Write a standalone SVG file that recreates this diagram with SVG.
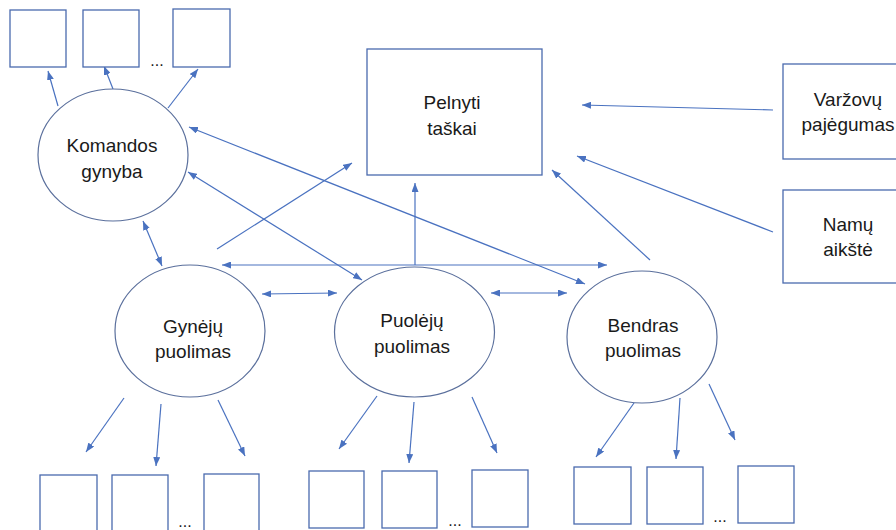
<svg xmlns="http://www.w3.org/2000/svg" width="896" height="530" viewBox="0 0 896 530">
  <style>
    .box { fill: #ffffff; stroke: #4a6aae; stroke-width: 1.3; }
    .oval { fill: #ffffff; stroke: #5a6f9c; stroke-width: 1.2; }
    .lbl { font-family: "Liberation Sans", "Open Sans", sans-serif; font-size: 19px; fill: #1a1a1a; text-anchor: middle; }
    .dots { font-family: "Liberation Sans", sans-serif; font-size: 16px; fill: #1a1a1a; text-anchor: middle; }
    .cn { stroke: #4a72c0; stroke-width: 1.2; fill: none; }
    .one { marker-end: url(#ah); }
    .two { marker-start: url(#ah); marker-end: url(#ah); }
  </style>
  <defs>
    <marker id="ah" markerUnits="userSpaceOnUse" markerWidth="9" markerHeight="7" refX="9" refY="3.5" orient="auto-start-reverse">
      <path d="M0,0 L9,3.5 L0,7 z" fill="#4a72c0"/>
    </marker>
  </defs>
  <rect width="896" height="530" fill="#ffffff"/>

  <!-- connectors -->
  <g id="connectors">
    <!-- team defence to its indicators -->
    <line class="cn one" x1="58" y1="106" x2="48" y2="71"/>
    <line class="cn one" x1="113" y1="89" x2="104" y2="66"/>
    <line class="cn one" x1="168" y1="108" x2="198" y2="69"/>
    <!-- external factors to scored points -->
    <line class="cn one" x1="773" y1="110" x2="582" y2="105"/>
    <line class="cn one" x1="773" y1="232" x2="577" y2="156"/>
    <!-- attacks to scored points -->
    <line class="cn one" x1="650" y1="260" x2="552" y2="170"/>
    <line class="cn one" x1="415" y1="265" x2="415" y2="183"/>
    <line class="cn one" x1="217" y1="249" x2="352" y2="163"/>
    <!-- mutual links -->
    <line class="cn two" x1="222" y1="265" x2="607" y2="265"/>
    <line class="cn two" x1="262" y1="294" x2="337" y2="293"/>
    <line class="cn two" x1="491" y1="293" x2="567" y2="293"/>
    <line class="cn two" x1="143" y1="221" x2="162" y2="266"/>
    <line class="cn two" x1="188" y1="172" x2="362" y2="280"/>
    <line class="cn two" x1="189" y1="127" x2="585" y2="284"/>
    <!-- attacks to their indicators -->
    <line class="cn one" x1="124" y1="398" x2="86" y2="452"/>
    <line class="cn one" x1="161" y1="404" x2="156" y2="466"/>
    <line class="cn one" x1="218" y1="400" x2="245" y2="456"/>
    <line class="cn one" x1="377" y1="396" x2="339" y2="449"/>
    <line class="cn one" x1="414" y1="402" x2="409" y2="463"/>
    <line class="cn one" x1="472" y1="397" x2="497" y2="453"/>
    <line class="cn one" x1="634" y1="403" x2="596" y2="457"/>
    <line class="cn one" x1="680" y1="398" x2="676" y2="459"/>
    <line class="cn one" x1="709" y1="384" x2="735" y2="440"/>
  </g>

  <!-- top indicator boxes -->
  <g id="top-indicators">
    <rect class="box" x="10" y="10" width="56" height="57"/>
    <rect class="box" x="83" y="10" width="56" height="57"/>
    <rect class="box" x="173" y="9" width="57" height="58"/>
    <text class="dots" x="157" y="66">...</text>
  </g>

  <g id="komandos-gynyba">
    <ellipse class="oval" cx="113" cy="155" rx="75" ry="66"/>
    <text class="lbl" x="112" y="152">Komandos</text>
    <text class="lbl" x="112" y="178">gynyba</text>
  </g>

  <g id="pelnyti-taskai">
    <rect class="box" x="367" y="49" width="175" height="126"/>
    <text class="lbl" x="452" y="109">Pelnyti</text>
    <text class="lbl" x="452" y="135">taškai</text>
  </g>

  <g id="varzovu-pajegumas">
    <rect class="box" x="783" y="64" width="130" height="95"/>
    <text class="lbl" x="848" y="106">Varžovų</text>
    <text class="lbl" x="848" y="131">pajėgumas</text>
  </g>

  <g id="namu-aikste">
    <rect class="box" x="783" y="190" width="130" height="93"/>
    <text class="lbl" x="848" y="231">Namų</text>
    <text class="lbl" x="848" y="256">aikštė</text>
  </g>

  <g id="gyneju-puolimas">
    <ellipse class="oval" cx="190" cy="331" rx="75" ry="66"/>
    <text class="lbl" x="193" y="333">Gynėjų</text>
    <text class="lbl" x="193" y="358">puolimas</text>
  </g>

  <g id="puoleju-puolimas">
    <ellipse class="oval" cx="414.5" cy="332" rx="80" ry="65"/>
    <text class="lbl" x="412" y="327">Puolėjų</text>
    <text class="lbl" x="412" y="353">puolimas</text>
  </g>

  <g id="bendras-puolimas">
    <ellipse class="oval" cx="642" cy="337" rx="75" ry="66"/>
    <text class="lbl" x="643" y="332">Bendras</text>
    <text class="lbl" x="643" y="357">puolimas</text>
  </g>

  <!-- bottom indicator boxes -->
  <g id="gyneju-indicators">
    <rect class="box" x="40" y="475" width="57" height="60"/>
    <rect class="box" x="112" y="475" width="56" height="60"/>
    <rect class="box" x="204" y="474" width="55" height="60"/>
    <text class="dots" x="185" y="527">...</text>
  </g>
  <g id="puoleju-indicators">
    <rect class="box" x="309" y="471" width="55" height="57"/>
    <rect class="box" x="382" y="471" width="55" height="57"/>
    <rect class="box" x="472" y="470" width="56" height="57"/>
    <text class="dots" x="455" y="526">...</text>
  </g>
  <g id="bendras-indicators">
    <rect class="box" x="574" y="467" width="57" height="57"/>
    <rect class="box" x="647" y="467" width="56" height="57"/>
    <rect class="box" x="738" y="466" width="56" height="57"/>
    <text class="dots" x="720" y="522">...</text>
  </g>
</svg>
